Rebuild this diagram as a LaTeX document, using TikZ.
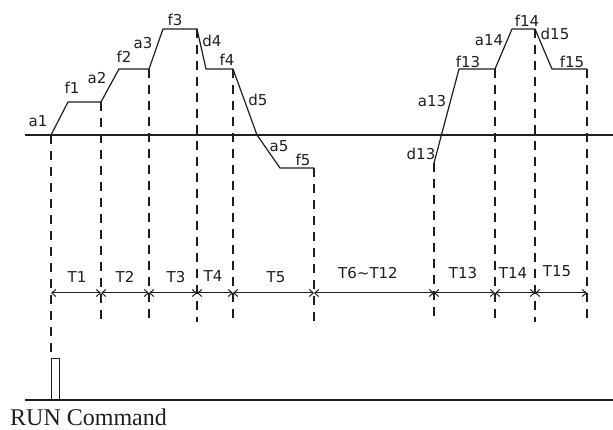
\documentclass[tikz,border=0pt]{standalone}
\usepackage{fontspec}
\setmainfont{Liberation Serif}
\newfontfamily\lblfont{DejaVu Sans}
\usepackage{tikz}
\usetikzlibrary{arrows.meta, calc}
\definecolor{lineink}{RGB}{30, 30, 30}

\tikzset{
  lbl/.style={font=\lblfont\fontsize{15}{17}\selectfont, inner sep=0pt, lineink},
  guide/.style={dash pattern=on 9pt off 7pt, line width=1.2pt, lineink},
  wave/.style={line width=1.2pt, lineink},
  dimline/.style={line width=1pt, lineink, {Straight Barb[length=4pt,width=7pt]}-{Straight Barb[length=4pt,width=7pt]}}
}

\begin{document}
\begin{tikzpicture}[x=1pt, y=-1pt]
\useasboundingbox (0,0) rectangle (613,430);

% axes
\coordinate (axl) at (25,135);
\coordinate (axr) at (613,135);
\coordinate (bl) at (25,400);
\coordinate (br) at (613,400);
\draw[wave] (axl) -- (axr);
\draw[wave] (bl) -- (br);

% levels
\coordinate (dimy) at (0,293);
\coordinate (guideend) at (0,322);

% first run
\coordinate (s1) at (51,135);
\coordinate (b1) at (68,102);
\coordinate (e1) at (101,102);
\coordinate (b2) at (119,69);
\coordinate (e2) at (149,69);
\coordinate (b3) at (163,29);
\coordinate (e3) at (197,29);
\coordinate (b4) at (206,69);
\coordinate (e4) at (233,69);
\coordinate (z5) at (257,135);
\coordinate (b5) at (280,168);
\coordinate (e5) at (314,168);
\draw[wave] (s1) -- (b1) -- (e1) -- (b2) -- (e2) -- (b3) -- (e3)
  -- (b4) -- (e4) -- (z5) -- (b5) -- (e5);

% second run
\coordinate (s13) at (434,163);
\coordinate (b13) at (459,69);
\coordinate (e13) at (495,69);
\coordinate (b14) at (512,29);
\coordinate (e14) at (535,29);
\coordinate (b15) at (552,69);
\coordinate (e15) at (587,69);
\draw[wave] (s13) -- (b13) -- (e13) -- (b14) -- (e14) -- (b15) -- (e15);

% run pulse
\coordinate (pl) at (51,400);
\coordinate (pt) at (51,358);
\coordinate (pr) at (59,358);
\coordinate (pb) at (59,400);
\draw[line width=1pt, lineink] (pl) -- (pt) -- (pr) -- (pb);

% guides
\draw[guide] (s1) -- (pt);
\foreach \p in {e1, e2, e3, e4, e5, s13, e13, e14, e15}
  \draw[guide] (\p) -- (\p |- guideend);

% time spans
\foreach \a/\b in {s1/e1, e1/e2, e2/e3, e3/e4, e4/e5, e5/s13, s13/e13, e13/e14, e14/e15}
  \draw[dimline] (\a |- dimy) -- (\b |- dimy);

% frequency labels
\node[lbl] (la1) at (38,121) {a1};
\node[lbl] (lf1) at (72,88) {f1};
\node[lbl] (la2) at (97,78) {a2};
\node[lbl] (lf2) at (124,57) {f2};
\node[lbl] (la3) at (143,43) {a3};
\node[lbl] (lf3) at (175,20) {f3};
\node[lbl] (ld4) at (212,41) {d4};
\node[lbl] (lf4) at (227,60) {f4};
\node[lbl] (ld5) at (258,100) {d5};
\node[lbl] (la5) at (279,146) {a5};
\node[lbl] (lf5) at (303,160) {f5};
\node[lbl] (ld13) at (421,154) {d13};
\node[lbl] (la13) at (432,101) {a13};
\node[lbl] (lf13) at (468,62) {f13};
\node[lbl] (la14) at (489,40) {a14};
\node[lbl] (lf14) at (527,21) {f14};
\node[lbl] (ld15) at (555,34) {d15};
\node[lbl] (lf15) at (572,62) {f15};

% time labels
\node[lbl] (lt1) at (77,277) {T1};
\node[lbl] (lt2) at (125,277) {T2};
\node[lbl] (lt3) at (176,277) {T3};
\node[lbl] (lt4) at (213,276) {T4};
\node[lbl] (lt5) at (276,277) {T5};
\node[lbl] (lt6) at (368,273) {T6\textasciitilde T12};
\node[lbl] (lt13) at (463,273) {T13};
\node[lbl] (lt14) at (513,273) {T14};
\node[lbl] (lt15) at (557,271) {T15};

\node[font=\fontsize{24}{27}\selectfont, inner sep=0pt, anchor=base west, lineink] (run) at (10,425) {RUN Command};

\end{tikzpicture}
\end{document}
